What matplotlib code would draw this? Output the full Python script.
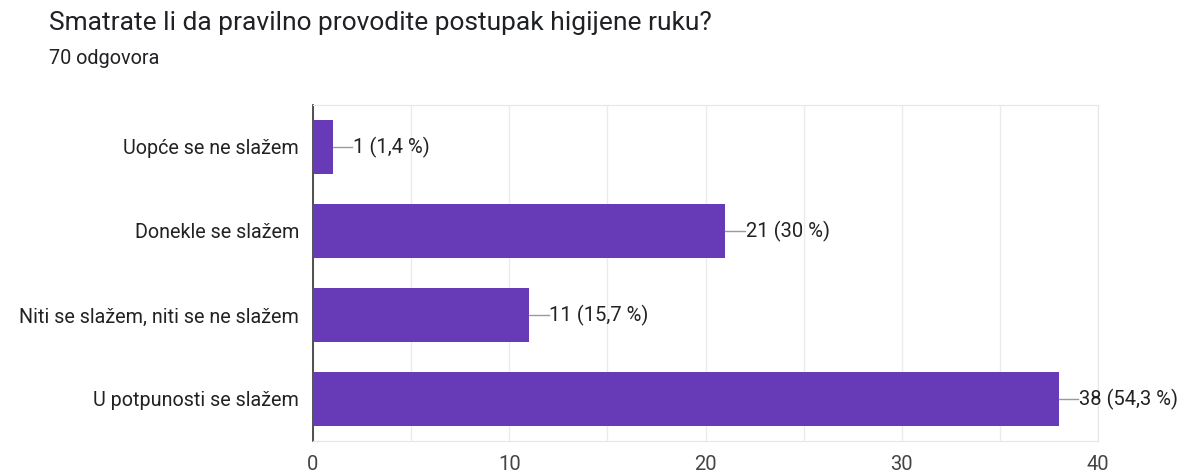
import matplotlib
matplotlib.use("Agg")
import matplotlib.pyplot as plt

categories = ["Uopće se ne slažem", "Donekle se slažem",
              "Niti se slažem, niti se ne slažem", "U potpunosti se slažem"]
values = [1, 21, 11, 38]
pct_labels = ["1,4 %", "30 %", "15,7 %", "54,3 %"]
xticks = [0, 10, 20, 30, 40]
title = "Smatrate li da pravilno provodite postupak higijene ruku?"
subtitle = "70 odgovora"

plt.rcParams['font.family'] = ['Roboto', 'DejaVu Sans']

fig = plt.figure(figsize=(11.84, 4.72), dpi=100)
ax = fig.add_axes([313/1184, 1-441/472, (1098-313)/1184, (441-105)/472])

ypos = list(range(len(categories)))
ax.barh(ypos, values, height=0.64, color="#673ab7", zorder=3)
ax.set_ylim(len(categories)-0.5, -0.5)
ax.set_xlim(0, 40)
ax.set_xticks(xticks)
ax.set_xticks([5, 15, 25, 35], minor=True)
ax.grid(axis="x", which="both", color="#ebebeb", linewidth=1, zorder=0)
ax.set_yticks(ypos)
ax.set_yticklabels(categories, fontsize=14.2, color="#222222")
ax.tick_params(axis="y", length=0, pad=10)
ax.tick_params(axis="x", which="both", length=0, pad=10, labelsize=14.5, labelcolor="#444444")

for s in ["top", "right", "bottom"]:
    ax.spines[s].set_color("#e6e6e6")
ax.spines["left"].set_color("#333333")
ax.spines["left"].set_linewidth(1.2)

for y, v, p in zip(ypos, values, pct_labels):
    ax.plot([v, v + 1.0], [y, y], color="#999999", linewidth=1, zorder=4, clip_on=False)
    ax.text(v + 1.05, y, f"{v} ({p})", va="center", ha="left", fontsize=14.5,
            color="#222222", clip_on=False)

fig.text(49/1184, 1-23/472, title, fontsize=19, color="#202124", va="center", ha="left")
fig.text(49/1184, 1-59/472, subtitle, fontsize=14.3, color="#202124", va="center", ha="left")

fig.savefig("out.png", dpi=100)
